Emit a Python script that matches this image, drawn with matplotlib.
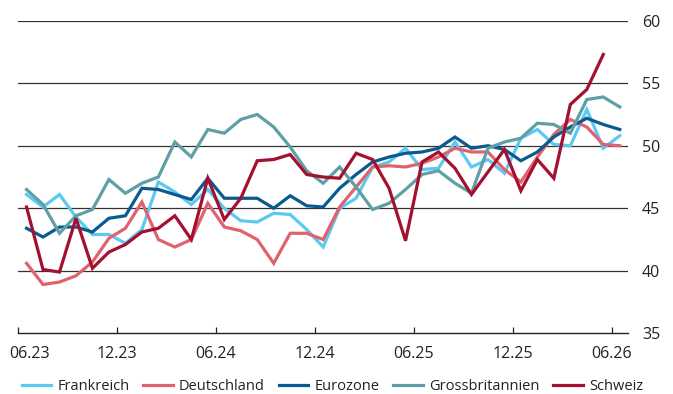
import numpy as np
import matplotlib
matplotlib.use("Agg")
import matplotlib.pyplot as plt
import matplotlib.transforms as mtransforms

plt.rcParams['font.family'] = ['Open Sans', 'DejaVu Sans']

# monthly values, 06.23 .. 06.26
frankreich = [46.1, 45.1, 46.1, 44.3, 42.9, 42.9, 42.2, 43.3, 47.1, 46.3,
              45.3, 46.5, 45.0, 44.0, 43.9, 44.6, 44.5, 43.3, 41.9, 45.0,
              45.8, 48.3, 48.7, 49.8, 48.1, 48.2, 50.3, 48.3, 48.9, 47.8,
              50.6, 51.3, 50.1, 50.0, 52.9, 49.8, 50.8]
deutschland = [40.6, 38.9, 39.1, 39.6, 40.7, 42.6, 43.4, 45.5, 42.5, 41.9,
               42.5, 45.4, 43.5, 43.2, 42.5, 40.6, 43.0, 43.0, 42.5, 45.1,
               46.7, 48.3, 48.4, 48.3, 48.6, 49.1, 49.8, 49.5, 49.5, 48.1,
               47.1, 49.1, 50.9, 52.1, 51.5, 50.1, 50.0]
eurozone = [43.4, 42.7, 43.5, 43.5, 43.1, 44.2, 44.4, 46.6, 46.5, 46.1,
            45.7, 47.4, 45.8, 45.8, 45.8, 45.0, 46.0, 45.2, 45.1, 46.6,
            47.7, 48.7, 49.1, 49.4, 49.5, 49.8, 50.7, 49.8, 50.0, 49.7,
            48.8, 49.5, 50.7, 51.5, 52.2, 51.7, 51.3]
grossbritannien = [46.5, 45.3, 43.0, 44.4, 44.9, 47.3, 46.2, 47.0, 47.5, 50.3,
                   49.1, 51.3, 51.0, 52.1, 52.5, 51.5, 49.9, 48.0, 47.0, 48.3,
                   46.7, 44.9, 45.4, 46.5, 47.7, 48.0, 47.0, 46.2, 49.8, 50.3,
                   50.6, 51.8, 51.7, 51.0, 53.7, 53.9, 53.1]
schweiz = [45.1, 40.1, 39.9, 44.2, 40.2, 41.5, 42.1, 43.1, 43.4, 44.4,
           42.5, 47.4, 44.1, 45.8, 48.8, 48.9, 49.3, 47.7, 47.5, 47.4,
           49.4, 48.9, 46.6, 42.4, 48.7, 49.5, 48.2, 46.1, 47.9, 49.7,
           46.4, 48.9, 47.4, 53.3, 54.5, 57.3]

tick_labels = ['06.23', '12.23', '06.24', '12.24', '06.25', '12.25', '06.26']

series = [
    ('Frankreich', frankreich, '#5ccaf0'),
    ('Deutschland', deutschland, '#e0626c'),
    ('Eurozone', eurozone, '#0b5a8f'),
    ('Grossbritannien', grossbritannien, '#5f9fa6'),
    ('Schweiz', schweiz, '#a4102f'),
]

fig = plt.figure(figsize=(6.73, 3.94), dpi=100)
ax = fig.add_axes([18.3 / 673, 1 - 333.3 / 394, (628 - 18.3) / 673, (333.3 - 20.7) / 394])

for name, vals, col in series:
    x = np.arange(len(vals)) + 0.5
    ax.plot(x, vals, color=col, lw=2.3, label=name, solid_joinstyle='miter')

ax.set_xlim(0, 37)
ax.set_ylim(35, 60)
ax.set_xticks(np.arange(0, 37, 6))
ax.set_xticklabels(tick_labels)
ax.set_yticks([35, 40, 45, 50, 55, 60])

for v in [40, 45, 50, 55, 60]:
    ax.axhline(v, color='#333333', lw=0.9, zorder=0)

for s in ['top', 'left', 'right']:
    ax.spines[s].set_visible(False)
ax.spines['bottom'].set_color('#222222')
ax.spines['bottom'].set_linewidth(1.0)

ax.yaxis.tick_right()
ax.tick_params(axis='y', length=0, pad=10, labelsize=11.5, labelcolor='#222222')
ax.tick_params(axis='x', direction='in', length=4, width=0.9, color='#222222',
               pad=9, labelsize=11.5, labelcolor='#222222')

# first label sits inside the figure
first = ax.get_xticklabels()[0]
first.set_transform(first.get_transform() +
                    mtransforms.ScaledTranslation(0.11, 0, fig.dpi_scale_trans))

fig.legend(loc='center', bbox_to_anchor=(0.494, 0.02), ncol=5, frameon=False,
           fontsize=10.5, handlelength=2.0, handletextpad=0.45, columnspacing=0.95,
           labelcolor='#222222')

fig.savefig('out.png', dpi=100)
